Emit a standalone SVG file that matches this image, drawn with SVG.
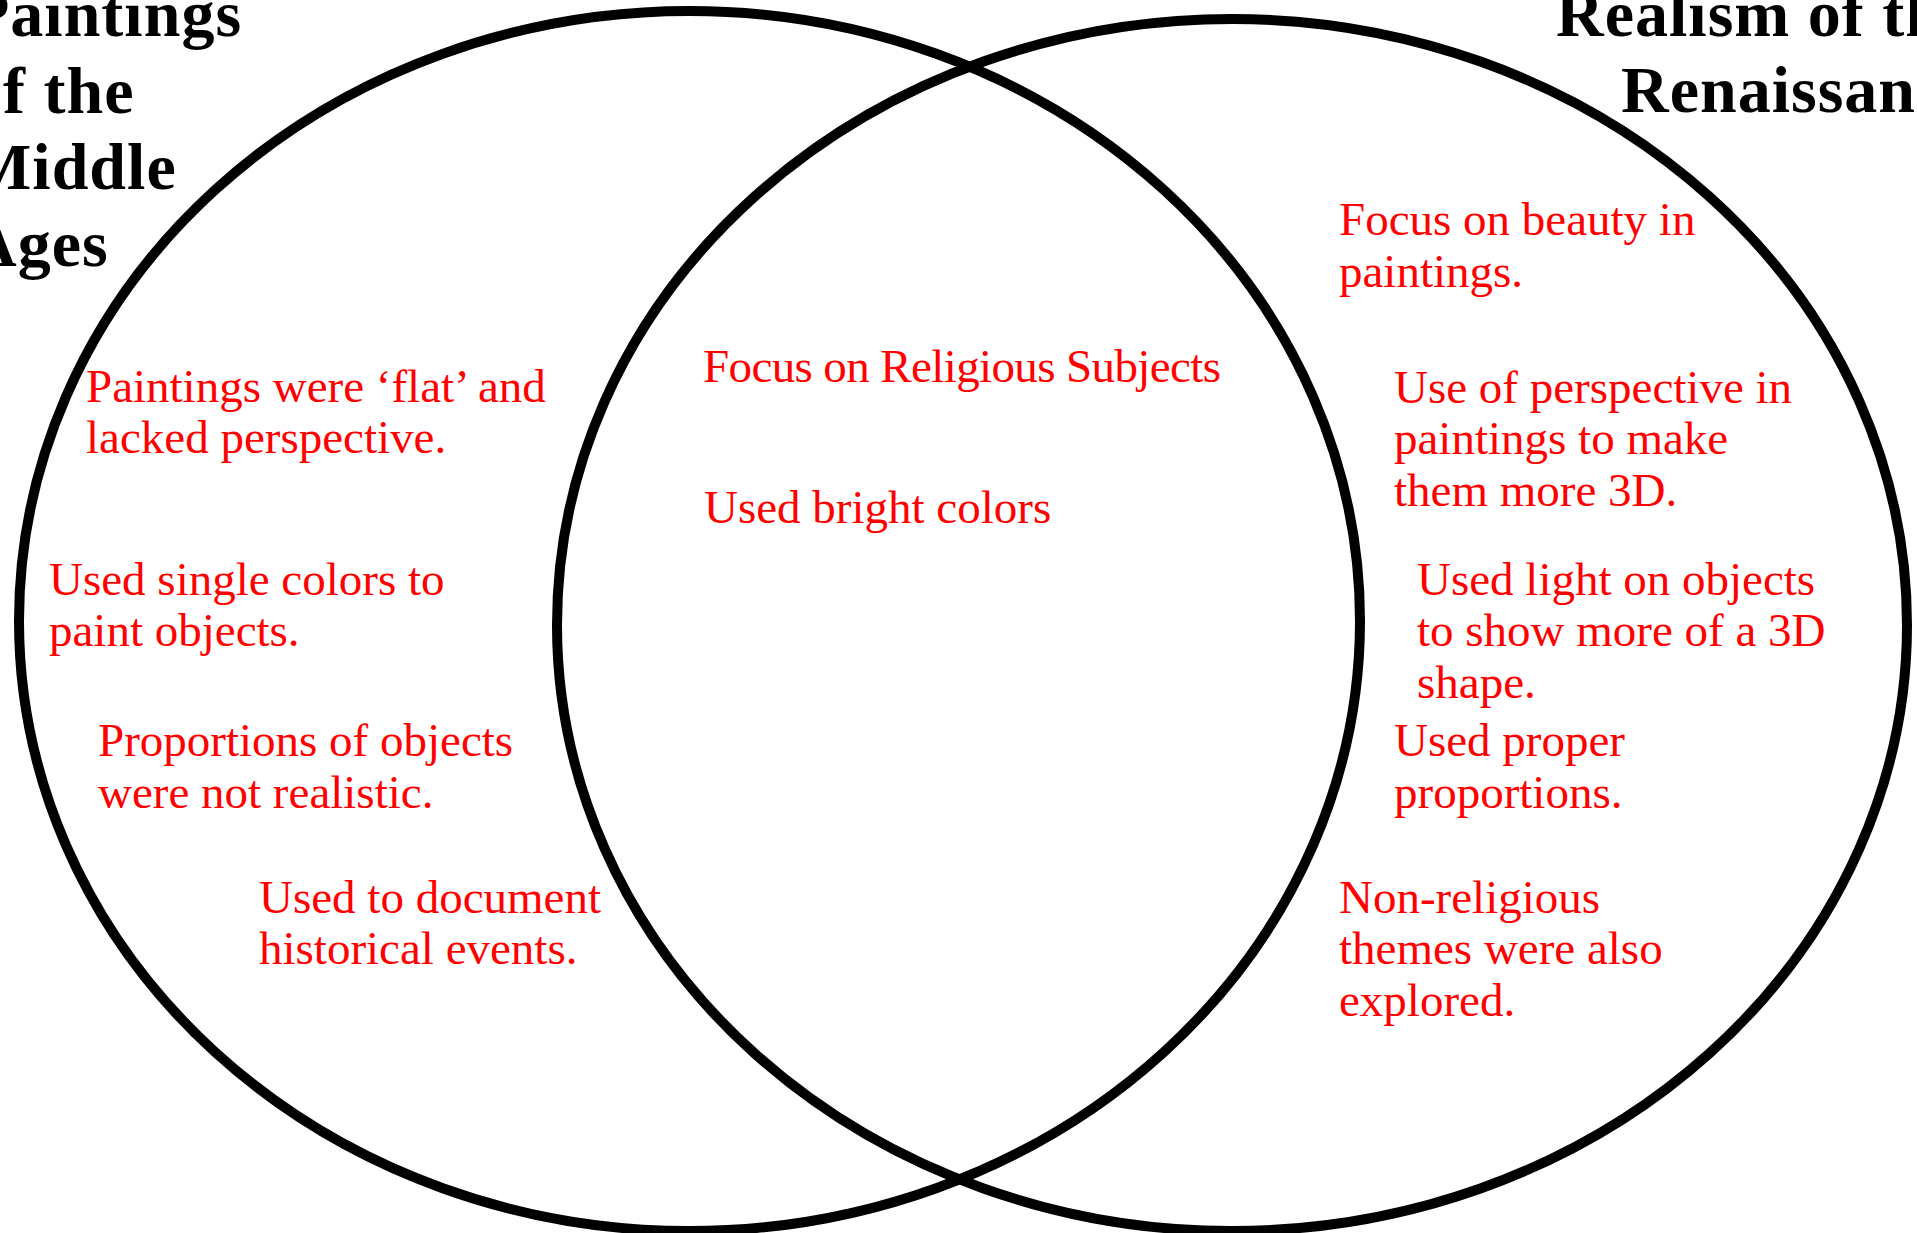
<svg xmlns="http://www.w3.org/2000/svg" width="1917" height="1233" viewBox="0 0 1917 1233">
  <style>
    .ring { fill: none; stroke: #000; stroke-width: 10; }
    .title { font-family: "Liberation Serif", "Times New Roman", serif; font-weight: bold; font-size: 66px; fill: #000; letter-spacing: 1px; }
    .item { font-family: "Liberation Serif", "Times New Roman", serif; font-size: 47px; fill: #FF0000; }
  </style>
  <rect x="0" y="0" width="1917" height="1233" fill="#FFFFFF"/>
  <g id="set-middle-ages">
    <ellipse class="ring" cx="689.5" cy="621" rx="670.5" ry="610"/>
  </g>
  <g id="set-renaissance">
    <ellipse class="ring" cx="1232" cy="625" rx="675" ry="606"/>
  </g>
  <g id="connectors"></g>
  <g id="title-middle-ages">
    <text class="title" x="-31" y="36">Paintings</text>
    <text class="title" x="-31" y="113">of the</text>
    <text class="title" x="-31" y="189">Middle</text>
    <text class="title" x="-31" y="266">Ages</text>
  </g>
  <g id="title-renaissance">
    <text class="title" x="1556" y="36">Realism of the</text>
    <text class="title" x="1621" y="112">Renaissance</text>
  </g>
  <g id="left-items">
    <text class="item" x="86" y="402">Paintings were ‘flat’ and</text>
    <text class="item" x="86" y="453">lacked perspective.</text>
    <text class="item" x="49" y="595">Used single colors to</text>
    <text class="item" x="49" y="646">paint objects.</text>
    <text class="item" x="98" y="756">Proportions of objects</text>
    <text class="item" x="98" y="808">were not realistic.</text>
    <text class="item" x="259" y="913">Used to document</text>
    <text class="item" x="259" y="964">historical events.</text>
  </g>
  <g id="shared-items">
    <text class="item" x="703" y="382" textLength="518">Focus on Religious Subjects</text>
    <text class="item" x="704" y="523">Used bright colors</text>
  </g>
  <g id="right-items">
    <text class="item" x="1339" y="235">Focus on beauty in</text>
    <text class="item" x="1339" y="287">paintings.</text>
    <text class="item" x="1394" y="403">Use of perspective in</text>
    <text class="item" x="1394" y="454">paintings to make</text>
    <text class="item" x="1394" y="506">them more 3D.</text>
    <text class="item" x="1417" y="595">Used light on objects</text>
    <text class="item" x="1417" y="646">to show more of a 3D</text>
    <text class="item" x="1417" y="698">shape.</text>
    <text class="item" x="1394" y="756">Used proper</text>
    <text class="item" x="1394" y="808">proportions.</text>
    <text class="item" x="1339" y="913">Non-religious</text>
    <text class="item" x="1339" y="964">themes were also</text>
    <text class="item" x="1339" y="1016">explored.</text>
  </g>
</svg>
